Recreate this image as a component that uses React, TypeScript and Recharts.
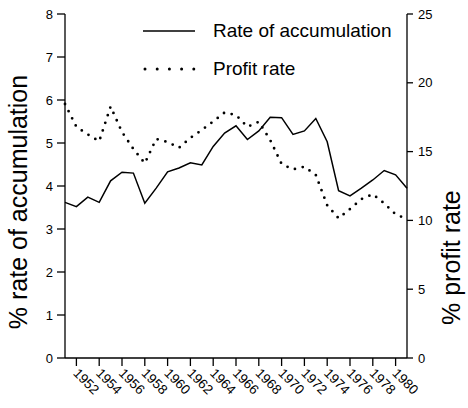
import React from 'react';
import { LineChart, Line, XAxis, YAxis, Legend } from 'recharts';

const years = [1951, 1952, 1953, 1954, 1955, 1956, 1957, 1958, 1959, 1960, 1961, 1962, 1963, 1964, 1965, 1966, 1967, 1968, 1969, 1970, 1971, 1972, 1973, 1974, 1975, 1976, 1977, 1978, 1979, 1980, 1981];
const accumulation = [3.62, 3.52, 3.74, 3.62, 4.12, 4.32, 4.3, 3.6, 3.95, 4.33, 4.42, 4.54, 4.49, 4.92, 5.23, 5.4, 5.08, 5.28, 5.6, 5.59, 5.2, 5.28, 5.57, 5.03, 3.89, 3.77, 3.95, 4.14, 4.36, 4.26, 3.95];
const profitRate = [18.46, 16.8, 16.25, 15.75, 18.27, 16.42, 15.19, 14.15, 15.92, 15.7, 15.28, 16.0, 16.57, 17.19, 17.84, 17.66, 16.8, 17.17, 15.84, 14.1, 13.71, 13.9, 13.3, 11.1, 10.15, 10.83, 11.55, 11.9, 11.24, 10.44, 10.1];
const xTicks = [1952, 1954, 1956, 1958, 1960, 1962, 1964, 1966, 1968, 1970, 1972, 1974, 1976, 1978, 1980];
const leftTicks = [0, 1, 2, 3, 4, 5, 6, 7, 8];
const rightTicks = [0, 5, 10, 15, 20, 25];
const seriesNames = ['Rate of accumulation', 'Profit rate'];
const leftTitle = '% rate of accumulation';
const rightTitle = '% profit rate';

const data = years.map((year, i) => ({ year, acc: accumulation[i], profit: profitRate[i] }));

const FONT = '"Liberation Sans", Arial, Helvetica, sans-serif';

const XTick = (props: any) => {
  const { x, y, payload } = props;
  const ax = x - 4;
  const ay = y + 6;
  return (
    <text x={ax} y={ay} transform={`rotate(45, ${ax}, ${ay})`} textAnchor="start" fontSize={13.5} fontFamily={FONT} fill="#000">
      {payload.value}
    </text>
  );
};

const AxisTitle = (props: any) => {
  const { tx, ty, text, anchor } = props;
  return (
    <text x={tx} y={ty} transform={`rotate(-90, ${tx}, ${ty})`} textAnchor={anchor} fontSize={25} fontFamily={FONT} fill="#000">
      {text}
    </text>
  );
};

const LegendContent = () => (
  <div style={{ fontFamily: FONT, fontSize: 19, color: '#000', lineHeight: '22px' }}>
    <div style={{ display: 'flex', alignItems: 'center', height: 38 }}>
      <svg width={56} height={10} style={{ display: 'block' }}>
        <line x1={0} x2={52} y1={5} y2={5} stroke="#000" strokeWidth={1.6} />
      </svg>
      <span style={{ marginLeft: 14, whiteSpace: 'nowrap' }}>{seriesNames[0]}</span>
    </div>
    <div style={{ display: 'flex', alignItems: 'center', height: 38 }}>
      <svg width={56} height={10} style={{ display: 'block' }}>
        <line x1={2} x2={51} y1={5} y2={5} stroke="#000" strokeWidth={3} strokeDasharray="0 12.2" strokeLinecap="round" />
      </svg>
      <span style={{ marginLeft: 14, whiteSpace: 'nowrap' }}>{seriesNames[1]}</span>
    </div>
  </div>
);

export default function App() {
  return (
    <div style={{ position: 'absolute', left: 0, top: 0, width: 468, height: 408, background: '#fff' }}>
      <LineChart width={468} height={408} data={data} margin={{ top: 14, right: 0, bottom: 0, left: 0 }}>
        <XAxis
          dataKey="year"
          type="number"
          domain={[1951, 1981]}
          ticks={xTicks}
          interval={0}
          height={50}
          tickSize={8}
          tickMargin={2}
          stroke="#000"
          strokeWidth={1.3}
          tick={<XTick />}
        />
        <YAxis
          yAxisId="left"
          orientation="left"
          domain={[0, 8]}
          ticks={leftTicks}
          width={65}
          tickSize={8}
          tickMargin={4}
          stroke="#000"
          strokeWidth={1.3}
          tick={{ fontSize: 13, fill: '#000', fontFamily: FONT }}
          label={<AxisTitle tx={27} ty={202} text={leftTitle} anchor="middle" />}
        />
        <YAxis
          yAxisId="right"
          orientation="right"
          domain={[0, 25]}
          ticks={rightTicks}
          width={61}
          tickSize={6}
          tickMargin={5}
          stroke="#000"
          strokeWidth={1.3}
          tick={{ fontSize: 13, fill: '#000', fontFamily: FONT, textAnchor: 'start' }}
          label={<AxisTitle tx={460} ty={325} text={rightTitle} anchor="start" />}
        />
        <Legend
          layout="vertical"
          align="center"
          verticalAlign="middle"
          content={<LegendContent />}
          wrapperStyle={{ left: 143, top: 12, width: 300, height: 80 }}
        />
        <Line
          yAxisId="left"
          type="linear"
          dataKey="acc"
          stroke="#000"
          strokeWidth={1.5}
          dot={false}
          isAnimationActive={false}
        />
        <Line
          yAxisId="right"
          type="linear"
          dataKey="profit"
          stroke="#000"
          strokeWidth={2.8}
          strokeDasharray="0 8"
          strokeLinecap="round"
          dot={false}
          isAnimationActive={false}
        />
      </LineChart>
    </div>
  );
}
